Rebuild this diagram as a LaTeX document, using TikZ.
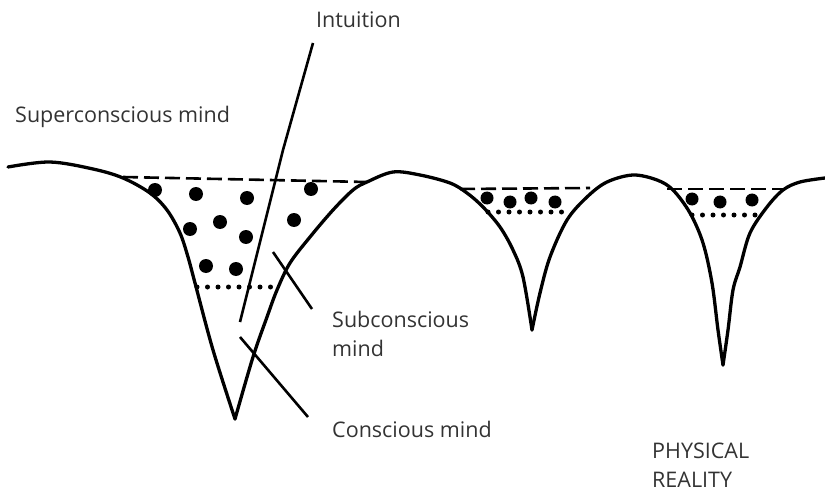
\documentclass[tikz,border=0pt]{standalone}
\usepackage{fontspec}
\setmainfont{Open Sans}
\usepackage{xcolor}
\usetikzlibrary{positioning}
\definecolor{labelgray}{RGB}{51,51,51}

\begin{document}
\begin{tikzpicture}[
        x=1pt, y=-1pt,
        % hand-drawn look: thick black strokes, grey humanist labels
        rim/.style={line width=3.3pt, line join=round, line cap=round},
        surface/.style={line width=2.6pt, dash pattern=on 15pt off 6pt},
        threshold/.style={line width=5pt, line cap=round, dash pattern=on 0pt off 10.5pt},
        leader/.style={line width=2.6pt},
        lbl/.style={font=\fontsize{21.5}{29}\selectfont, text=labelgray,
            inner sep=0pt, anchor=base west, align=left}
    ]
        \useasboundingbox (0,0) rectangle (825,492);

        % Valleys of the mind
        \draw[rim] plot[smooth, tension=0.55] coordinates {(8,167) (50,162) (93,169) (123,178) (150,193)
            (167,210) (180,233) (188,257) (195,283) (213,350) (235,419)};
        \draw[rim] plot[smooth, tension=0.55] coordinates {(235,419) (253,357) (267,317) (277,290)
            (290,263) (310,237) (333,210) (353,190) (367,182) (393,172) (420,175) (450,183)
            (467,193) (483,207) (500,227) (513,250) (523,277) (532,330)};
        \draw[rim] plot[smooth, tension=0.55] coordinates {(532,330) (540,293) (550,257) (567,220)
            (587,197) (607,182) (633,175) (657,180) (673,190) (690,213) (703,243) (712,283)
            (718,330) (723,365)};
        \draw[rim] plot[smooth, tension=0.55] coordinates {(723,365) (728,330) (733,290) (740,267)
            (750,233) (767,207) (783,190) (800,182) (825,178)};

        % Surface of each pool
        \draw[surface] (123,177) -- (367,182);
        \draw[surface] (460,189) -- (590,188);
        \draw[surface] (667,189) -- (783,189);

        % Lower threshold
        \draw[threshold] (197,287) -- (275,287);
        \draw[threshold] (488,212) -- (567,212);
        \draw[threshold] (692,215) -- (757,215);

        % Contents
        \foreach \x/\y in {155/190, 196/194, 247/198, 311/189, 220/222, 190/229, 246/237,
            294/220, 206/266, 236/269}
            \fill (\x,\y) circle[radius=7pt];
        \foreach \x/\y in {487/198, 510/202, 531/198, 555/202, 692/199, 720/202, 752/200}
            \fill (\x,\y) circle[radius=6.5pt];

        % Labels
        \node[lbl] (supmind) at (15,123) {Superconscious mind};
        \node[lbl] (intuition) at (316,28) {Intuition};
        \node[lbl] (submind) at (332,356) {Subconscious\\mind};
        \node[lbl] (conmind) at (332,437) {Conscious mind};
        \node[lbl] (physical) at (652,487) {PHYSICAL\\REALITY};

        % Leaders
        \coordinate (intuitiontop) at (313,43);
        \coordinate (intuitionend) at (240,322);
        \coordinate (subtop) at (273,252);
        \coordinate (subend) at (312,309);
        \coordinate (contop) at (240,337);
        \coordinate (conend) at (308,417);
        \draw[leader] (intuitiontop) -- (297,100) -- (283,150) -- (intuitionend);
        \draw[leader] (subtop) -- (subend);
        \draw[leader] (contop) -- (conend);
    \end{tikzpicture}
\end{document}
